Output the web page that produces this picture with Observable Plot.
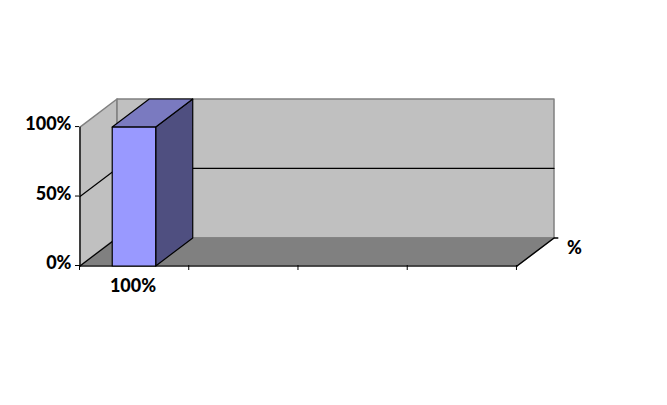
<!DOCTYPE html>
<html><head><meta charset="utf-8">
<script src="https://cdn.jsdelivr.net/npm/d3@7"></script>
<script src="https://cdn.jsdelivr.net/npm/@observablehq/plot@0.6"></script>
<style>html,body{margin:0;padding:0;background:#fff}svg{display:block}</style>
</head><body><div id="chart"></div>
<script>
const categories = ["100%"];
const values = [100];
const seriesName = "%";
const slots = [0, 1, 2, 3, 4];
const yTicks = [0, 50, 100];
const yMax = 100;
const barStart = 0.295, barEnd = 0.693;
// oblique depth offset, expressed in data units
const depthX = 0.339, depthY = 20.2;

const P = (x, y, d = 0) => ({x: x + d * depthX, y: y + d * depthY});
const poly = (...pts) => pts.map(([x, y, d]) => P(x, y, d));
const closed = a => [...a, a[0]];
const xMax = slots[slots.length - 1];

const leftWall = poly([0,0,0],[0,yMax,0],[0,yMax,1],[0,0,1]);
const backWall = poly([0,0,1],[0,yMax,1],[xMax,yMax,1],[xMax,0,1]);
const floor = poly([0,0,0],[xMax,0,0],[xMax,0,1],[0,0,1]);
const v = values[0];
const barFront = poly([barStart,0,0],[barStart,v,0],[barEnd,v,0],[barEnd,0,0]);
const barTop = poly([barStart,v,0],[barEnd,v,0],[barEnd,v,1],[barStart,v,1]);
const barSide = poly([barEnd,0,0],[barEnd,v,0],[barEnd,v,1],[barEnd,0,1]);

const crisp = {dx: 0.5, dy: 0.5, curve: "linear"};
const face = (pts, fill, stroke, sw = 1.2) =>
  Plot.line(closed(pts), {x: "x", y: "y", fill, stroke, strokeWidth: sw, ...crisp});
const seg = (pts, stroke, sw = 1.2) =>
  Plot.line(pts, {x: "x", y: "y", stroke, strokeWidth: sw, ...crisp});

const font = {fontFamily: "Lato, Carlito, sans-serif", fontWeight: 900, fontSize: 18, fill: "#000"};

const chart = Plot.plot({
  width: 667, height: 405,
  marginLeft: 79, marginRight: 114, marginTop: 98, marginBottom: 140,
  style: {background: "#fff", overflow: "visible"},
  x: {type: "linear", domain: [0, xMax + depthX], range: [79, 553], label: null},
  y: {type: "linear", domain: [0, yMax + depthY], range: [265, 98], label: null},
  marks: [
    face(leftWall, "#c0c0c0", "#808080", 1.5),
    face(backWall, "#c0c0c0", "#808080", 1.5),
    face(floor, "#808080", "#808080", 1.5),
    // gridline at 50 on left and back walls
    ...yTicks.filter(t => t > 0 && t < yMax).map(t => seg(poly([0,t,0],[0,t,1],[xMax,t,1]), "#000")),
    // axis lines
    seg(poly([0,0,0],[0,yMax,0]), "#000"),
    seg(poly([0,0,0],[xMax,0,0]), "#000"),
    seg(poly([xMax,0,0],[xMax,0,1],[xMax + 0.035,0,1]), "#000", 1.4),
    seg(poly([0,0,0],[0,0,1]), "#000"),
    // bar
    face(barSide, "#4f4f80", "#000"),
    face(barTop, "#7a7ac0", "#000"),
    face(barFront, "#9999ff", "#000"),
    // axes
    Plot.axisX({ticks: slots, tickSize: 5, tickFormat: () => "", label: null, strokeOpacity: 1}),
    Plot.axisY({ticks: yTicks, tickSize: 4, tickFormat: () => "", label: null, strokeOpacity: 1}),
    Plot.axisY({ticks: yTicks, tickSize: 0, tickPadding: 8, dy: -2, tickFormat: d => d + "%", label: null, ...font}),
    // labels
    Plot.text(categories, {x: (d, i) => i + 0.49, y: () => 0, text: d => d, dy: 21, ...font}),
    Plot.text([seriesName], {x: () => xMax + depthX, y: () => depthY, text: d => d, dx: 21, dy: 11, ...font})
  ]
});
document.getElementById("chart").appendChild(chart);
</script></body></html>
